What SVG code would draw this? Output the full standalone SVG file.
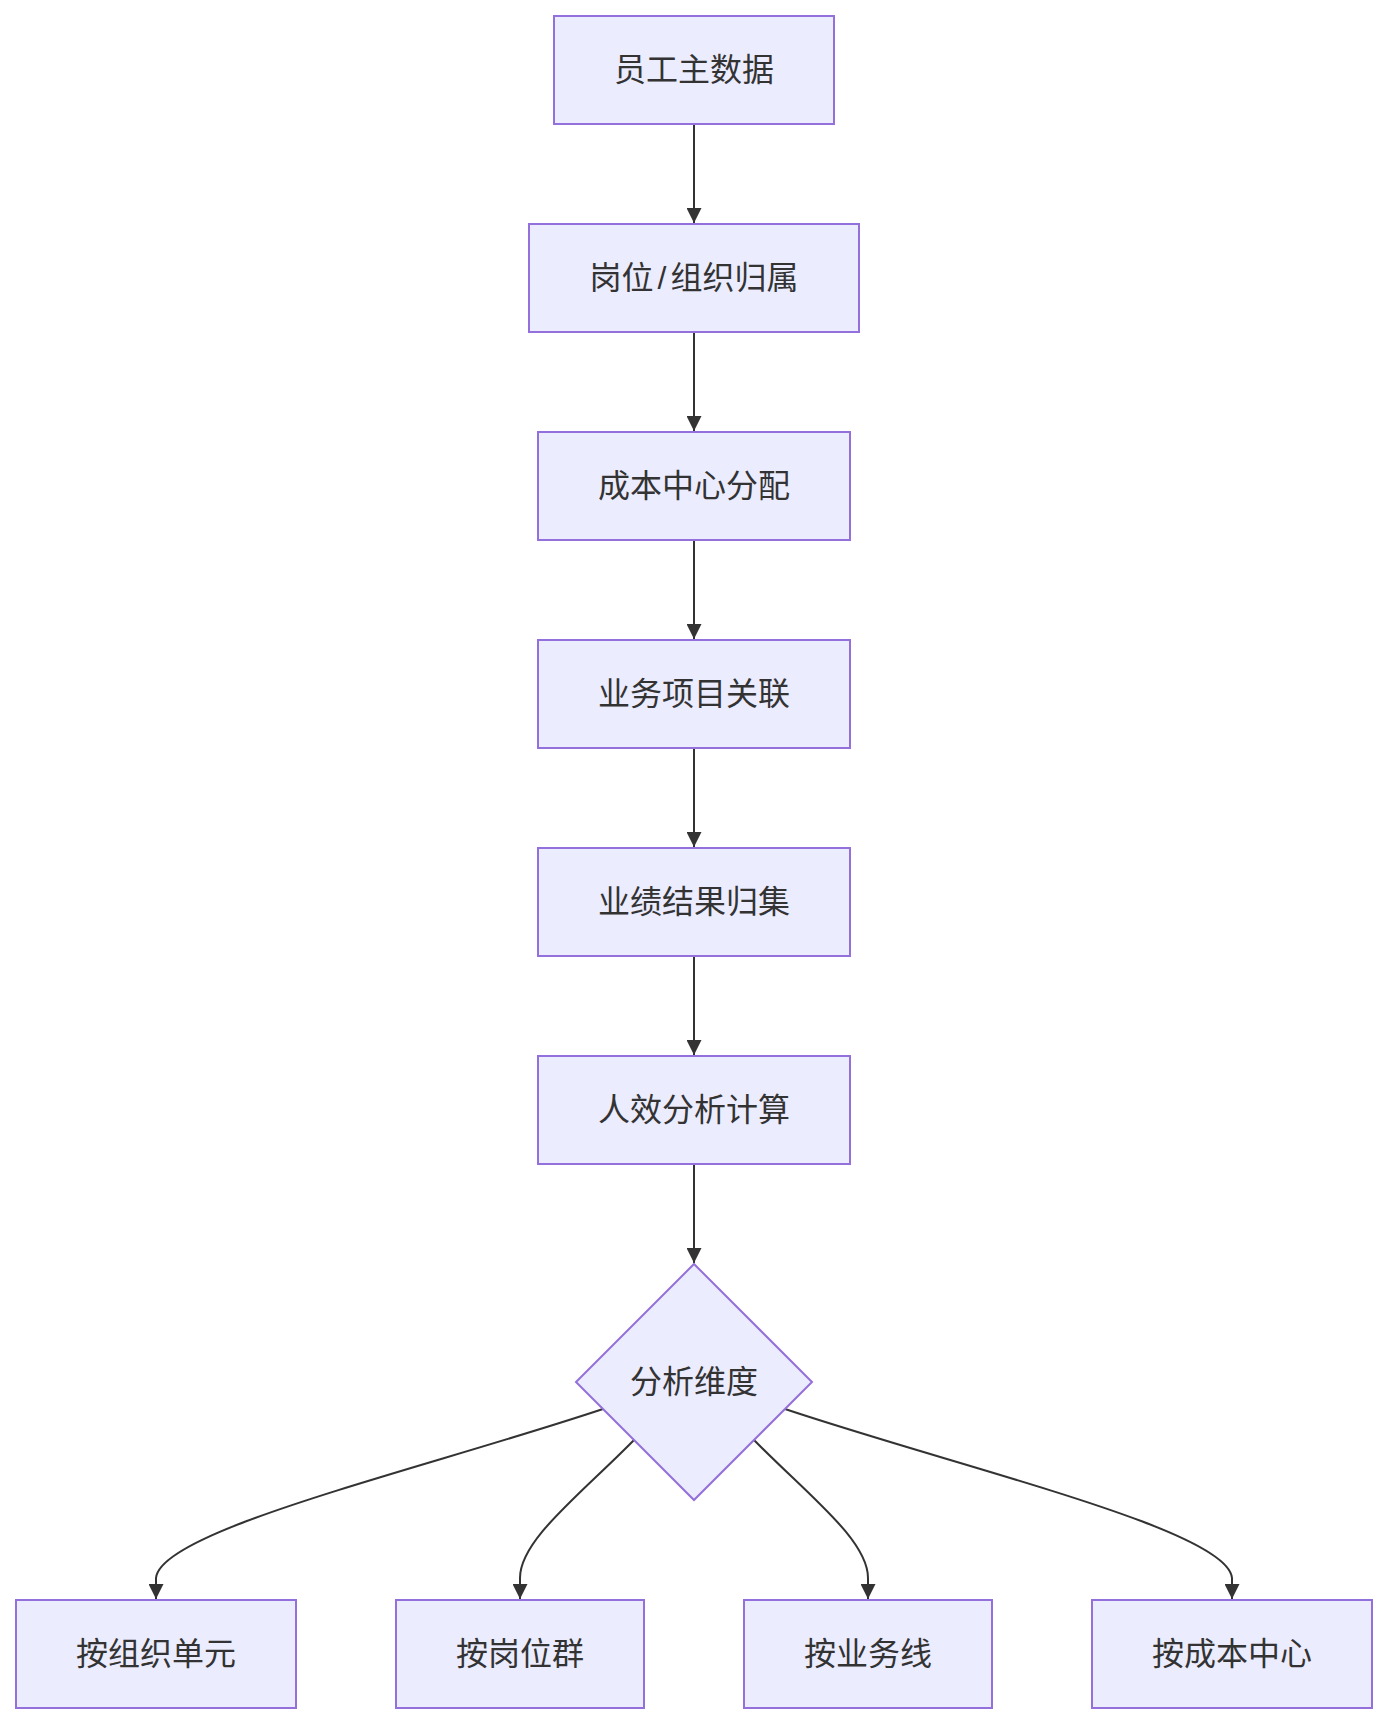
<svg xmlns="http://www.w3.org/2000/svg" width="1388" height="1724" viewBox="0 0 1388 1724">
<style>
.node rect, .node polygon { fill: #ECECFF; stroke: #9370DB; stroke-width: 2; }
.node text { font-family: "Liberation Sans", "Noto Sans CJK SC", sans-serif; font-size: 32px; fill: #333333; text-anchor: middle; dominant-baseline: central; }
.edge { fill: none; stroke: #333333; stroke-width: 2; marker-end: url(#arrow); }
</style>
<defs>
<marker id="arrow" viewBox="0 0 10 10" refX="10" refY="5" markerWidth="15" markerHeight="15" markerUnits="userSpaceOnUse" orient="auto">
<path d="M0,0 L10,5 L0,10 z" fill="#333333"/>
</marker>
</defs>
<rect width="1388" height="1724" fill="#ffffff"/>
<g id="connectors">
<path class="edge" d="M694,124 L694,223"/>
<path class="edge" d="M694,332 L694,431"/>
<path class="edge" d="M694,540 L694,639"/>
<path class="edge" d="M694,748 L694,847"/>
<path class="edge" d="M694,956 L694,1055"/>
<path class="edge" d="M694,1164 L694,1263"/>
<path class="edge" d="M603,1409 C420,1470 160,1530 156,1578 L156,1599"/>
<path class="edge" d="M634,1440 C580,1495 520,1540 520,1578 L520,1599"/>
<path class="edge" d="M754,1440 C808,1495 868,1540 868,1578 L868,1599"/>
<path class="edge" d="M785,1409 C968,1470 1228,1530 1232,1578 L1232,1599"/>
</g>
<g id="n1" class="node"><rect x="554" y="16" width="280" height="108"/><text x="694" y="70">员工主数据</text></g>
<g id="n2" class="node"><rect x="529" y="224" width="330" height="108"/><text x="694" y="278">岗位<tspan dx="4">/</tspan><tspan dx="4">组织归属</tspan></text></g>
<g id="n3" class="node"><rect x="538" y="432" width="312" height="108"/><text x="694" y="486">成本中心分配</text></g>
<g id="n4" class="node"><rect x="538" y="640" width="312" height="108"/><text x="694" y="694">业务项目关联</text></g>
<g id="n5" class="node"><rect x="538" y="848" width="312" height="108"/><text x="694" y="902">业绩结果归集</text></g>
<g id="n6" class="node"><rect x="538" y="1056" width="312" height="108"/><text x="694" y="1110">人效分析计算</text></g>
<g id="n7" class="node"><polygon points="694,1264 812,1382 694,1500 576,1382"/><text x="694" y="1382">分析维度</text></g>
<g id="n8" class="node"><rect x="16" y="1600" width="280" height="108"/><text x="156" y="1654">按组织单元</text></g>
<g id="n9" class="node"><rect x="396" y="1600" width="248" height="108"/><text x="520" y="1654">按岗位群</text></g>
<g id="n10" class="node"><rect x="744" y="1600" width="248" height="108"/><text x="868" y="1654">按业务线</text></g>
<g id="n11" class="node"><rect x="1092" y="1600" width="280" height="108"/><text x="1232" y="1654">按成本中心</text></g>
</svg>
